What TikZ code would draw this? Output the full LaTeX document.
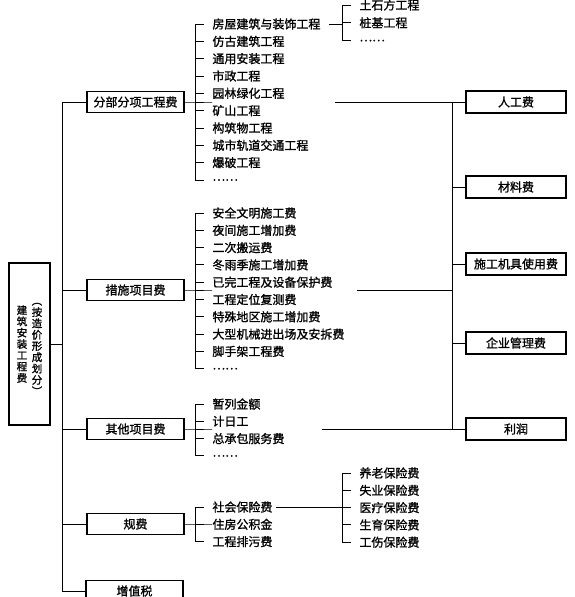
\documentclass[tikz,border=0pt]{standalone}
\usepackage{fontspec}
\setmainfont{Noto Sans CJK SC}[RawFeature={embolden=1.2}]
\usetikzlibrary{positioning}

\begin{document}
\begin{tikzpicture}[
        x=1pt, y=-1pt,
        line width=0.9pt,
        costbox/.style={rectangle, draw, line width=1.2pt, minimum width=97pt, minimum height=21pt, inner sep=0pt, font=\fontsize{12}{12}\selectfont},
        partbox/.style={rectangle, draw, line width=1.2pt, minimum width=100pt, minimum height=22pt, inner sep=0pt, font=\fontsize{12}{12}\selectfont},
        item/.style={anchor=west, inner sep=0pt, font=\fontsize{12}{12}\selectfont},
        vtext/.style={align=center, inner sep=0pt, font=\fontsize{10.5}{11.3}\selectfont}
    ]
        \useasboundingbox (0,0) rectangle (575,597);

        % Root
        \node[draw, line width=1.2pt, minimum width=41pt, minimum height=162pt] (root) at (29.5,344) {};
        \node[vtext] (rootA) at (22,344) {建\\筑\\安\\装\\工\\程\\费};
        \node[vtext] (rootB) at (37,349) {︵\\按\\造\\价\\形\\成\\划\\分\\︶};

        % Cost items
        \node[costbox] (fbfx) at (135.5,102) {分部分项工程费};
        \node[costbox] (csxm) at (135.5,290) {措施项目费};
        \node[costbox] (qtxm) at (135.5,429) {其他项目费};
        \node[costbox] (guifei) at (135.5,524) {规费};
        \node[costbox] (zzs) at (134.5,591) {增值税};

        % Trunk
        \coordinate (trunk-top) at (62,102);
        \coordinate (trunk-bot) at (62,591);
        \draw (trunk-top) -- (trunk-bot);
        \draw (root.east) -- (root.east -| trunk-top);
        \foreach \b in {fbfx, csxm, qtxm, guifei, zzs}
            \draw (trunk-top |- \b) -- (\b.west);

        % Lists
        \foreach \t [count=\i] in {房屋建筑与装饰工程, 仿古建筑工程, 通用安装工程, 市政工程, 园林绿化工程, 矿山工程, 构筑物工程, 城市轨道交通工程, 爆破工程, ……}
            \node[item] (fbfx-\i) at (212,{24+17.33*(\i-1)}) {\t};
        \foreach \t [count=\i] in {安全文明施工费, 夜间施工增加费, 二次搬运费, 冬雨季施工增加费, 已完工程及设备保护费, 工程定位复测费, 特殊地区施工增加费, 大型机械进出场及安拆费, 脚手架工程费, ……}
            \node[item] (csxm-\i) at (212,{213+17.3*(\i-1)}) {\t};
        \foreach \t [count=\i] in {暂列金额, 计日工, 总承包服务费, ……}
            \node[item] (qtxm-\i) at (212,{404+17.3*(\i-1)}) {\t};
        \foreach \t [count=\i] in {社会保险费, 住房公积金, 工程排污费}
            \node[item] (guifei-\i) at (212,{507+17.3*(\i-1)}) {\t};
        \foreach \t [count=\i] in {土石方工程, 桩基工程, ……}
            \node[item] (tsf-\i) at (359,{5+17.8*(\i-1)}) {\t};
        \foreach \t [count=\i] in {养老保险费, 失业保险费, 医疗保险费, 生育保险费, 工伤保险费}
            \node[item] (sb-\i) at (359,{473+17.3*(\i-1)}) {\t};

        % Brackets
        \foreach \l/\n in {fbfx/10, csxm/10, qtxm/4, guifei/3, tsf/3, sb/5} {
            \draw ([xshift=-17pt]\l-1.west) -- ([xshift=-17pt]\l-\n.west);
            \foreach \i in {1,...,\n}
                \draw ([xshift=-17pt]\l-\i.west) -- ([xshift=-8pt]\l-\i.west);
        }
        \foreach \b in {fbfx, csxm, qtxm, guifei}
            \draw (\b.east) -- (\b.east -| \b-1.west) -- +(-17,0);
        \draw ([xshift=8pt]fbfx-1.east) -- ([xshift=-17pt]tsf-2.west |- fbfx-1);
        \draw ([xshift=3pt]guifei-1.east) -- ([xshift=-17pt]sb-3.west |- guifei-1);

        % Cost elements
        \node[partbox] (rgf) at (516,102) {人工费};
        \node[partbox] (clf) at (516,187) {材料费};
        \node[partbox] (jjf) at (516,264) {施工机具使用费};
        \node[partbox] (glf) at (516,343) {企业管理费};
        \node[partbox] (lr) at (516,429) {利润};

        \coordinate (spine-top) at (452,102);
        \coordinate (spine-bot) at (452,429);
        \draw (spine-top) -- (spine-bot);
        \foreach \p in {clf, jjf, glf}
            \draw (\p.west -| spine-top) -- (\p.west);

        \coordinate (fbfx-out) at (335,102);
        \coordinate (csxm-out) at (357,290);
        \coordinate (qtxm-out) at (322,429);
        \draw (fbfx-out) -- (rgf.west);
        \draw (csxm-out) -- (csxm-out -| spine-top);
        \draw (qtxm-out) -- (lr.west);

    \end{tikzpicture}
\end{document}
